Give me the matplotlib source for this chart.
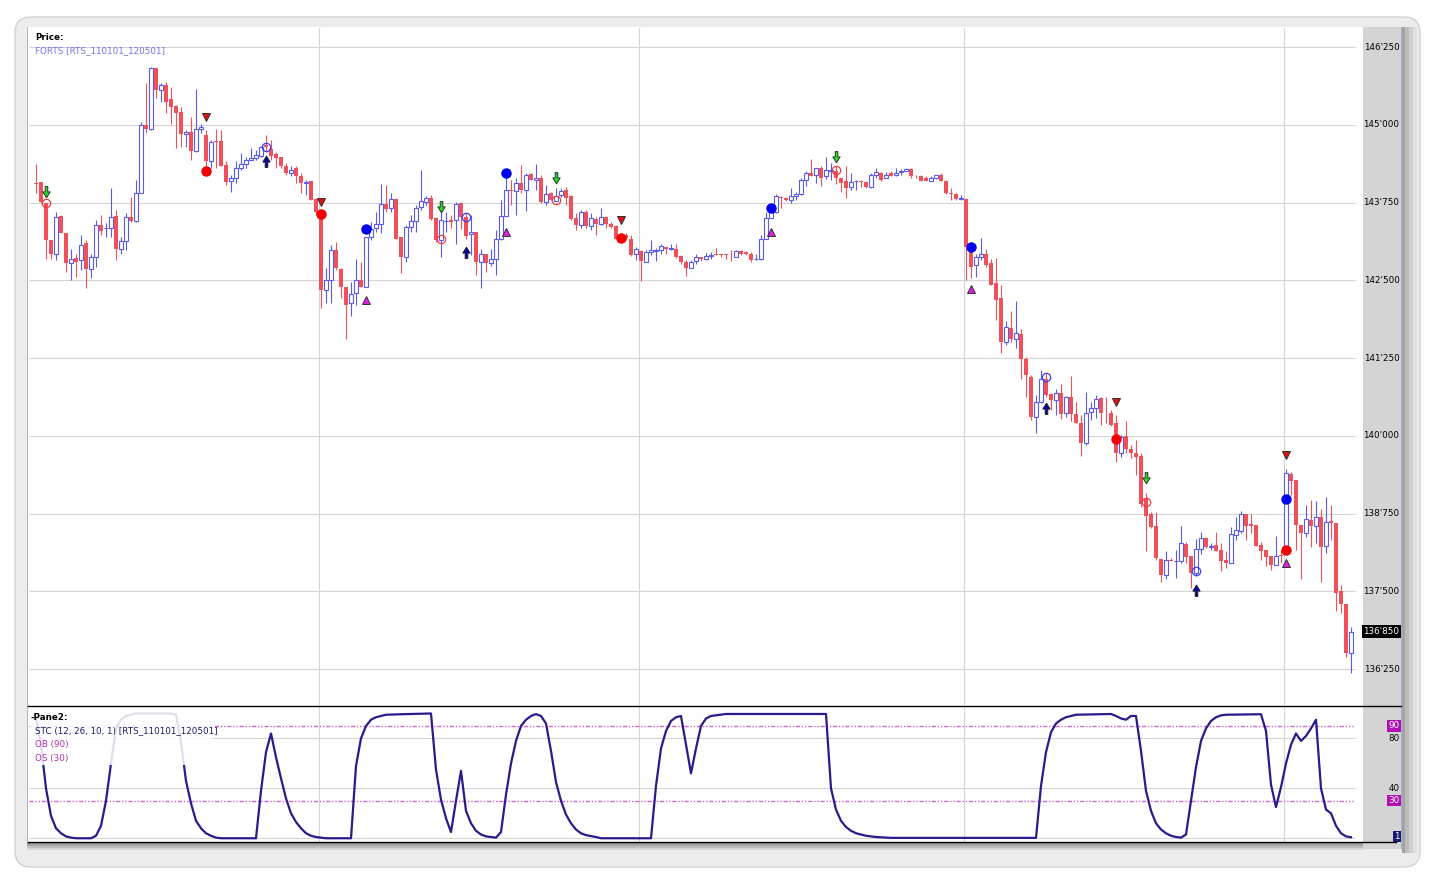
import matplotlib
matplotlib.use("Agg")
import matplotlib.pyplot as plt
import numpy as np
from matplotlib.patches import Rectangle, FancyBboxPatch
from matplotlib.path import Path
from matplotlib.lines import Line2D
from matplotlib.transforms import blended_transform_factory

plt.rcParams['font.family'] = ['DejaVu Sans']

W, H = 1431, 874

# ---- price candles (one per bar) ----
opens = [144060, 144080, 143740, 143140, 142920, 143530, 143260, 142770, 142860, 142830,
         143100, 142680, 142870, 143390, 143340, 143340, 143530, 143000, 143130, 143510,
         143460, 143900, 144990, 144940, 145910, 145560, 145640, 145410, 145300, 145200,
         144850, 144880, 144580, 144930, 144840, 144410, 144740, 144740, 144350, 144090,
         144140, 144300, 144370, 144440, 144460, 144500, 144670, 144610, 144530, 144480,
         144340, 144220, 144310, 144170, 144060, 144090, 143800, 143550, 142340, 142500,
         142990, 142680, 142390, 142130, 142290, 142500, 142400, 143190, 143340, 143410,
         143730, 143660, 143800, 143200, 142870, 143360, 143460, 143680, 143760, 143830,
         143500, 143140, 143460, 143470, 143470, 143750, 143510, 143240, 143270, 142800,
         142920, 142780, 142850, 143160, 143540, 143950, 143940, 144070, 143950, 144210,
         144110, 144140, 143760, 143900, 143780, 143870, 143950, 143860, 143500, 143390,
         143590, 143370, 143490, 143410, 143510, 143410, 143370, 143230, 143230, 143170,
         142920, 142970, 142800, 142950, 142970, 142990, 143030, 143010, 143010, 142890,
         142800, 142700, 142810, 142870, 142850, 142890, 142920, 142920, 142920, 142910,
         142880, 142970, 142950, 142920, 142840, 142840, 143160, 143500, 143600, 143840,
         143830, 143790, 143860, 143880, 144110, 144220, 144190, 144310, 144170, 144260,
         144260, 144140, 144100, 144000, 144090, 144100, 144080, 144000, 144190, 144220,
         144150, 144220, 144200, 144240, 144260, 144290, 144180, 144180, 144140, 144100,
         144140, 144200, 144100, 143900, 143880, 143800, 143810, 143040, 142740, 142870,
         142930, 142770, 142460, 142210, 141510, 141740, 141550, 141640, 141230, 140950,
         140310, 140550, 140920, 140670, 140580, 140680, 140370, 140620, 140350, 140210,
         139880, 140380, 140450, 140600, 140370, 140370, 140210, 139730, 139990, 139790,
         139730, 139670, 138980, 138740, 138550, 138020, 137770, 138010, 137980, 137980,
         138260, 138070, 137800, 138180, 138350, 138210, 138240, 138160, 138000, 137960,
         138400, 138470, 138740, 138580, 138570, 138240, 138160, 138060, 137930, 138080,
         138190, 139390, 139290, 138570, 138440, 138650, 138550, 138690, 138230, 138630,
         138600, 137500, 137300, 136500]
highs = [144370, 144080, 143750, 143140, 143600, 143550, 143260, 143000, 142930, 143230,
         143150, 142930, 143470, 143550, 143420, 143980, 143630, 143200, 143580, 143840,
         144110, 145050, 145670, 145930, 145910, 145670, 145690, 145610, 145320, 145290,
         144920, 145130, 145570, 145010, 144920, 144760, 144930, 144920, 144410, 144190,
         144410, 144540, 144490, 144630, 144590, 144660, 144840, 144760, 144570, 144490,
         144380, 144330, 144340, 144220, 144110, 144090, 143820, 143580, 142690, 143070,
         143120, 142690, 142400, 142480, 142850, 142800, 143200, 143440, 143600, 144040,
         144030, 143900, 143820, 143200, 143390, 143550, 143710, 144280, 143850, 143870,
         143520, 143630, 143600, 143550, 143760, 143760, 143580, 143550, 143280, 143010,
         142930, 143010, 143310, 143790, 144170, 144120, 144140, 144350, 144220, 144220,
         144370, 144190, 144030, 143920, 143980, 143980, 144000, 143870, 143580, 143630,
         143630, 143580, 143520, 143660, 143530, 143440, 143390, 143260, 143260, 143230,
         143040, 142990, 142990, 143140, 143020, 143080, 143040, 143090, 143090, 142910,
         142830, 142830, 142920, 142880, 142940, 142950, 143020, 142930, 142930, 142990,
         142990, 142990, 142970, 142950, 142930, 143230, 143590, 143700, 143880, 143850,
         143840, 143980, 143920, 144140, 144250, 144450, 144310, 144330, 144480, 144380,
         144340, 144140, 144330, 144220, 144110, 144110, 144100, 144220, 144310, 144240,
         144240, 144260, 144310, 144290, 144300, 144300, 144190, 144190, 144170, 144170,
         144200, 144220, 144110, 143990, 143900, 143870, 143820, 143070, 142930, 143180,
         143010, 142850, 142860, 142420, 141850, 142000, 142170, 141710, 141270, 140970,
         140660, 141060, 141010, 140690, 140760, 140840, 140640, 140960, 140550, 140330,
         140700, 140550, 140660, 140630, 140630, 140410, 140330, 140010, 140230, 139850,
         139940, 139730, 139080, 138780, 138780, 138020, 138150, 138030, 138170, 138550,
         138300, 138070, 138340, 138450, 138370, 138280, 138460, 138270, 138140, 138540,
         138690, 138790, 138740, 138740, 138570, 138300, 138170, 138060, 138390, 138170,
         139460, 139420, 139290, 138570, 138890, 138970, 138950, 138830, 139020, 138890,
         138600, 137600, 137300, 136920]
lows = [143910, 143750, 142850, 142840, 142830, 143260, 142640, 142500, 142560, 142670,
        142370, 142530, 142720, 143230, 143200, 143200, 142820, 142930, 142990, 143440,
        143440, 143900, 144860, 144920, 145430, 145370, 145190, 145020, 144620, 144650,
        144650, 144430, 144570, 144860, 144300, 144300, 144300, 144330, 144030, 143920,
        144060, 144270, 144300, 144430, 144430, 144480, 144570, 144430, 144300, 144300,
        144190, 144170, 144060, 143900, 143870, 143790, 143550, 142050, 142130, 142130,
        142670, 142210, 141550, 141920, 142100, 142400, 142390, 143150, 143280, 143260,
        143600, 143600, 143170, 142620, 142800, 143280, 143280, 143630, 143710, 143470,
        143120, 142870, 143280, 143340, 143090, 143320, 143170, 142910, 142590, 142370,
        142640, 142730, 142590, 143150, 143540, 143710, 143550, 143900, 143610, 144110,
        143950, 143740, 143710, 143790, 143760, 143840, 143710, 143470, 143310, 143340,
        143340, 143310, 143230, 143390, 143340, 143340, 143160, 143150, 143170, 142890,
        142830, 142490, 142790, 142910, 142810, 142930, 142920, 142990, 142860, 142760,
        142570, 142700, 142760, 142810, 142830, 142850, 142910, 142880, 142850, 142810,
        142880, 142910, 142910, 142800, 142830, 142830, 143160, 143500, 143580, 143660,
        143780, 143750, 143790, 143870, 144020, 144180, 144060, 144020, 144130, 144110,
        144040, 143920, 143830, 143950, 143950, 144000, 143990, 143990, 144150, 144100,
        144140, 144170, 144170, 144190, 144250, 144150, 144140, 144100, 144090, 144090,
        144130, 144090, 143880, 143790, 143790, 143790, 142500, 142540, 142560, 142830,
        142720, 142420, 141860, 141330, 141460, 141510, 141410, 140910, 140630, 140250,
        140040, 140520, 140630, 140410, 140330, 140270, 140310, 140230, 140200, 139680,
        139850, 140250, 140280, 140170, 140200, 140160, 139580, 139660, 139720, 139640,
        139370, 138860, 138140, 138520, 138000, 137650, 137690, 137980, 137710, 137950,
        137950, 137550, 137740, 138100, 138190, 138160, 138140, 137830, 137870, 137960,
        138320, 138440, 138320, 138430, 138230, 138010, 137910, 137850, 137930, 137950,
        138110, 139050, 138160, 137690, 138380, 138220, 138270, 137650, 138110, 138320,
        137190, 137150, 136450, 136180]
closes = [144050, 143760, 143140, 142920, 143520, 143260, 142770, 142850, 142800, 143070,
          142680, 142870, 143390, 143300, 143340, 143520, 143000, 143130, 143510, 143460,
          143910, 144990, 144940, 145910, 145560, 145640, 145370, 145290, 145190, 144850,
          144880, 144580, 144930, 144970, 144410, 144720, 144730, 144340, 144080, 144140,
          144300, 144370, 144440, 144470, 144510, 144640, 144640, 144500, 144460, 144330,
          144230, 144270, 144170, 144060, 144080, 143790, 143600, 142340, 142500, 142990,
          142690, 142390, 142110, 142280, 142500, 142400, 143190, 143320, 143400, 143730,
          143650, 143800, 143170, 142870, 143350, 143450, 143670, 143780, 143820, 143490,
          143140, 143470, 143460, 143440, 143730, 143510, 143220, 143270, 142790, 142920,
          142770, 142850, 143170, 143540, 143950, 143940, 144060, 143950, 144190, 144120,
          144140, 143760, 143890, 143790, 143850, 143940, 143830, 143490, 143390, 143590,
          143370, 143500, 143400, 143510, 143400, 143360, 143170, 143170, 143180, 142910,
          143010, 142810, 142950, 142980, 142990, 143050, 143000, 143020, 142880, 142790,
          142700, 142800, 142870, 142850, 142890, 142910, 142910, 142910, 142900, 142900,
          142970, 142920, 142920, 142830, 142850, 143160, 143500, 143660, 143850, 143830,
          143790, 143860, 143890, 144110, 144220, 144170, 144300, 144150, 144270, 144270,
          144140, 144070, 143990, 144080, 144090, 144080, 144000, 144200, 144240, 144120,
          144200, 144180, 144220, 144260, 144290, 144170, 144170, 144100, 144100, 144150,
          144190, 144090, 143900, 143880, 143800, 143820, 143040, 142720, 142870, 142930,
          142740, 142420, 142180, 141510, 141750, 141550, 141650, 141230, 140970, 140310,
          140550, 140920, 140650, 140580, 140680, 140350, 140620, 140350, 140200, 139880,
          140370, 140440, 140590, 140360, 140360, 140170, 139730, 139980, 139780, 139730,
          139660, 138910, 138710, 138540, 138030, 137770, 138010, 137980, 137980, 138270,
          138050, 137800, 138180, 138350, 138210, 138230, 138150, 137980, 137960, 138420,
          138480, 138740, 138550, 138550, 138230, 138140, 138050, 137920, 138070, 138060,
          139400, 139280, 138570, 138430, 138660, 138550, 138690, 138220, 138620, 138600,
          137480, 137290, 136500, 136850]

# ---- signal markers: (bar index, price) ----
green_arrow_x = [2, 81, 104, 160, 222]
green_arrow_y = [143920, 143680, 144140, 144480, 139320]
red_ring_x = [2, 81, 104, 160, 222]
red_ring_y = [143750, 143160, 143790, 144270, 138940]
red_tri_x = [34, 57, 117, 216, 250]
red_tri_y = [145130, 143760, 143470, 140550, 139690]
red_dot_x = [34, 57, 117, 216, 250]
red_dot_y = [144250, 143570, 143180, 139950, 138160]
blue_arrow_x = [46, 86, 202, 232]
blue_arrow_y = [144410, 142960, 140440, 137520]
blue_ring_x = [46, 86, 202, 232]
blue_ring_y = [144650, 143520, 140950, 137830]
mag_tri_x = [66, 94, 147, 187, 250]
mag_tri_y = [142190, 143270, 143270, 142360, 137950]
blue_dot_x = [66, 94, 147, 187, 250]
blue_dot_y = [143330, 144230, 143660, 143040, 138990]

# ---- STC indicator (bar index, value) ----
stc_x = [0, 1, 2, 3, 4, 5, 6, 7, 8, 11, 12, 13, 14, 15, 16, 17, 18, 20, 27, 28, 29, 30, 31, 32, 33,
         34, 35, 36, 37, 44, 45, 46, 47, 48, 49, 50, 51, 52, 53, 54, 55, 56, 58, 63, 64, 65, 66,
         67, 68, 70, 74, 79, 80, 81, 82, 83, 84, 85, 86, 87, 88, 89, 90, 92, 93, 94, 95, 96, 97,
         98, 99, 100, 101, 102, 103, 104, 105, 106, 107, 108, 109, 110, 112, 113, 123, 124, 125,
         126, 127, 128, 129, 130, 131, 132, 133, 134, 135, 138, 158, 159, 160, 161, 162, 163,
         164, 166, 168, 171, 200, 201, 202, 203, 204, 205, 206, 208, 215, 216, 217, 218, 219,
         220, 221, 222, 223, 224, 225, 226, 227, 228, 229, 230, 231, 232, 233, 234, 235, 236,
         237, 238, 245, 246, 247, 248, 249, 250, 251, 252, 253, 254, 255, 256, 257, 258, 259,
         260, 261, 262, 263]
stc_v = [97, 75, 40, 18, 8, 4, 1.5, 0.5, 0, 0, 2, 10, 30, 60, 88, 95, 98, 100, 100, 99, 77, 46,
         28, 14, 8, 4, 2, 0.5, 0, 0, 38, 69, 84, 65, 48, 32, 20, 13, 8, 4, 2, 1, 0, 0, 58, 80, 90,
         95, 97, 99, 99.5, 100, 55, 31, 16, 5, 30, 54, 22, 12, 6, 3, 1.5, 0.5, 5, 35, 60, 78, 90,
         95, 98, 99.5, 98, 92, 70, 45, 30, 19, 12, 7, 4, 2.5, 1, 0, 0, 42, 72,
         86, 94, 97, 98, 75, 52, 72, 90, 96, 98, 99.6, 99.6, 40, 23, 14, 9, 6,
         4, 2, 1, 0.3, 0.3, 42, 69, 85, 92, 95, 97, 99, 99.6, 98, 96, 95, 98,
         98, 70, 38, 22, 12, 7, 4, 2, 1, 0.5, 3, 30, 57, 78, 88, 94, 97,
         98.5, 99, 99.4, 86, 43, 25, 41, 60, 75, 84, 78, 82, 88, 95, 40, 23, 20,
         10, 4, 1.5, 0.8]

price_ticks = [136250, 137500, 138750, 140000, 141250, 142500, 143750, 145000, 146250]
stc_ticks = [40, 80]
day_lines = [56.6, 120.6, 185.6, 249.6]

RED = '#f0505a'
BLUE = '#5a5af0'
GRID = '#d4d4d4'
FS = 6.3


def fr(x0, y0, x1, y1):
    return [x0 / W, 1 - y1 / H, (x1 - x0) / W, (y1 - y0) / H]


fig = plt.figure(figsize=(W / 100, H / 100), dpi=100)
fig.patch.set_facecolor('white')

# window frame in pixel coordinates
bg = fig.add_axes([0, 0, 1, 1])
bg.set_xlim(0, W)
bg.set_ylim(H, 0)
bg.axis('off')
bg.add_patch(FancyBboxPatch((15, 17), 1405, 850, boxstyle='round,pad=0,rounding_size=16',
                            fc='#ececec', ec='#d2d2d2', lw=1))
bg.add_patch(Rectangle((27, 27), 1376, 822, fc='white', ec='none'))
bg.add_patch(Rectangle((26.5, 27), 1.5, 816, fc='#b4b4b4', ec='none'))
for y0, col in [(842, '#8e8e8e'), (844, '#a6a6a6'), (846, '#bebebe'), (848, '#d6d6d6')]:
    bg.add_patch(Rectangle((27, y0), 1336, 2, fc=col, ec='none'))
bg.add_patch(Rectangle((1363, 27), 38, 822, fc='#d4d4d4', ec='none'))
bg.add_patch(Rectangle((1401, 27), 1.2, 822, fc='#9cb2d8', ec='none'))
for x0, col in [(1402.2, '#a4a4a4'), (1405, '#bcbcbc'), (1409, '#d0d0d0'), (1413, '#e0e0e0')]:
    bg.add_patch(Rectangle((x0, 27), 4, 826, fc=col, ec='none'))

# ---- price pane ----
ax = fig.add_axes(fr(29, 28, 1363, 705))
ax.set_xlim(-1.4, 265.4)
ax.set_ylim(135672, 146556)
for s in ax.spines.values():
    s.set_visible(False)
ax.set_xticks([])
ax.set_yticks([])
ax.hlines(price_ticks, -1.4, 263.8, color=GRID, lw=0.8, zorder=0)
for d in day_lines:
    ax.axvline(d, color=GRID, lw=0.8, zorder=0)

x = np.arange(len(closes))
o = np.array(opens, float)
c = np.array(closes, float)
hi = np.array(highs, float)
lo = np.array(lows, float)
up = c >= o
ax.vlines(x[up], lo[up], hi[up], color=BLUE, lw=0.8, zorder=2)
ax.vlines(x[~up], lo[~up], hi[~up], color=RED, lw=0.8, zorder=2)
ax.bar(x[up], c[up] - o[up], bottom=o[up], width=0.62, facecolor='white',
       edgecolor=BLUE, lw=0.8, zorder=3)
ax.bar(x[~up], c[~up] - o[~up], bottom=o[~up], width=0.72, color=RED, lw=0, zorder=3)

arrow_down = Path([(-0.22, 1), (0.22, 1), (0.22, 0.1), (0.62, 0.1), (0, -0.9),
                   (-0.62, 0.1), (-0.22, 0.1), (-0.22, 1)], closed=True)
arrow_up = Path([(-0.22, -1), (0.22, -1), (0.22, -0.1), (0.62, -0.1), (0, 0.9),
                 (-0.62, -0.1), (-0.22, -0.1), (-0.22, -1)], closed=True)

ax.plot(green_arrow_x, green_arrow_y, ls='none', marker=arrow_down, ms=8.5,
        mfc='#1ee01e', mec='#303030', mew=0.7, zorder=6)
ax.plot(red_ring_x, red_ring_y, ls='none', marker='o', ms=6, mfc='none',
        mec='#f03c3c', mew=0.9, zorder=6)
ax.plot(red_tri_x, red_tri_y, ls='none', marker='v', ms=6.3, mfc='#e01010',
        mec='#303030', mew=0.7, zorder=6)
ax.plot(red_dot_x, red_dot_y, ls='none', marker='o', ms=6.5, mfc='#f00000',
        mec='#f00000', zorder=6)
ax.plot(blue_arrow_x, blue_arrow_y, ls='none', marker=arrow_up, ms=8.5,
        mfc='#0000b0', mec='#202020', mew=0.7, zorder=6)
ax.plot(blue_ring_x, blue_ring_y, ls='none', marker='o', ms=6, mfc='none',
        mec='#3c3cf0', mew=0.9, zorder=6)
ax.plot(mag_tri_x, mag_tri_y, ls='none', marker='^', ms=6.3, mfc='#e020e0',
        mec='#303030', mew=0.7, zorder=6)
ax.plot(blue_dot_x, blue_dot_y, ls='none', marker='o', ms=6.5, mfc='#0000f0',
        mec='#0000f0', zorder=6)

tr = blended_transform_factory(fig.transFigure, ax.transData)
for t in price_ticks:
    ax.text(1399.5 / W, t, f"{t:,}".replace(",", "'"), transform=tr, ha='right',
            va='center', fontsize=FS, color='black', clip_on=False)
ax.text(1399.5 / W, closes[-1], f"{closes[-1]:,}".replace(",", "'"), transform=tr,
        ha='right', va='center', fontsize=FS, color='white', clip_on=False,
        bbox=dict(boxstyle='square,pad=0.2', fc='black', ec='none'))

# ---- STC pane ----
ax2 = fig.add_axes(fr(29, 706, 1363, 841.5))
ax2.set_xlim(-1.4, 265.4)
ax2.set_ylim(-2.6, 106)
for s in ax2.spines.values():
    s.set_visible(False)
ax2.set_xticks([])
ax2.set_yticks([])
ax2.hlines([0] + stc_ticks, -1.4, 263.8, color=GRID, lw=0.8, zorder=0)
for d in day_lines:
    ax2.axvline(d, color=GRID, lw=0.8, zorder=0)
dash = (0, (3, 1.3, 1, 1.3, 1, 1.3))
ax2.hlines([90, 30], -1.4, 263.3, color='#d064d0', lw=1.0, linestyles=[dash], zorder=1)
ax2.plot(stc_x, stc_v, color='#2a1a8c', lw=1.6, zorder=3, solid_joinstyle='round')

tr2 = blended_transform_factory(fig.transFigure, ax2.transData)
for t in stc_ticks:
    ax2.text(1399.5 / W, t, str(t), transform=tr2, ha='right', va='center',
             fontsize=FS, color='black', clip_on=False)
for t in [90, 30]:
    ax2.text(1399.5 / W, t, str(t), transform=tr2, ha='right', va='center',
             fontsize=FS, color='white', clip_on=False,
             bbox=dict(boxstyle='square,pad=0.12', fc='#b010b0', ec='none'))
ax2.text(1399.5 / W, 1.5, "1", transform=tr2, ha='right', va='center',
         fontsize=FS, color='white', clip_on=False,
         bbox=dict(boxstyle='square,pad=0.12', fc='#1a1a70', ec='none'))

# legend veil over the STC line
fig.add_artist(Rectangle((30 / W, 1 - 765 / H), 183 / W, 58 / H, transform=fig.transFigure,
                         fc='white', ec='none', alpha=0.86, zorder=2))

# pane separators
for yy, x1 in [(705.5, 1401), (841.5, 1396)]:
    fig.add_artist(Line2D([28 / W, x1 / W], [1 - yy / H, 1 - yy / H],
                          transform=fig.transFigure, color='black', lw=1.0, zorder=4))


def label(xp, yp, s, **kw):
    fig.text(xp / W, 1 - yp / H, s, va='center', ha='left', fontsize=FS, zorder=5, **kw)


label(35, 38, "Price:", fontweight='bold', color='black')
label(35, 51, "FORTS [RTS_110101_120501]", color='#7070f0')
label(31, 718, "-Pane2:", fontweight='bold', color='black')
label(35, 731, "STC (12, 26, 10, 1) [RTS_110101_120501]", color='#1a1a6a')
label(35, 745, "OB (90)", color='#b030b0')
label(35, 758, "OS (30)", color='#b030b0')

fig.savefig('out.png', dpi=100)
